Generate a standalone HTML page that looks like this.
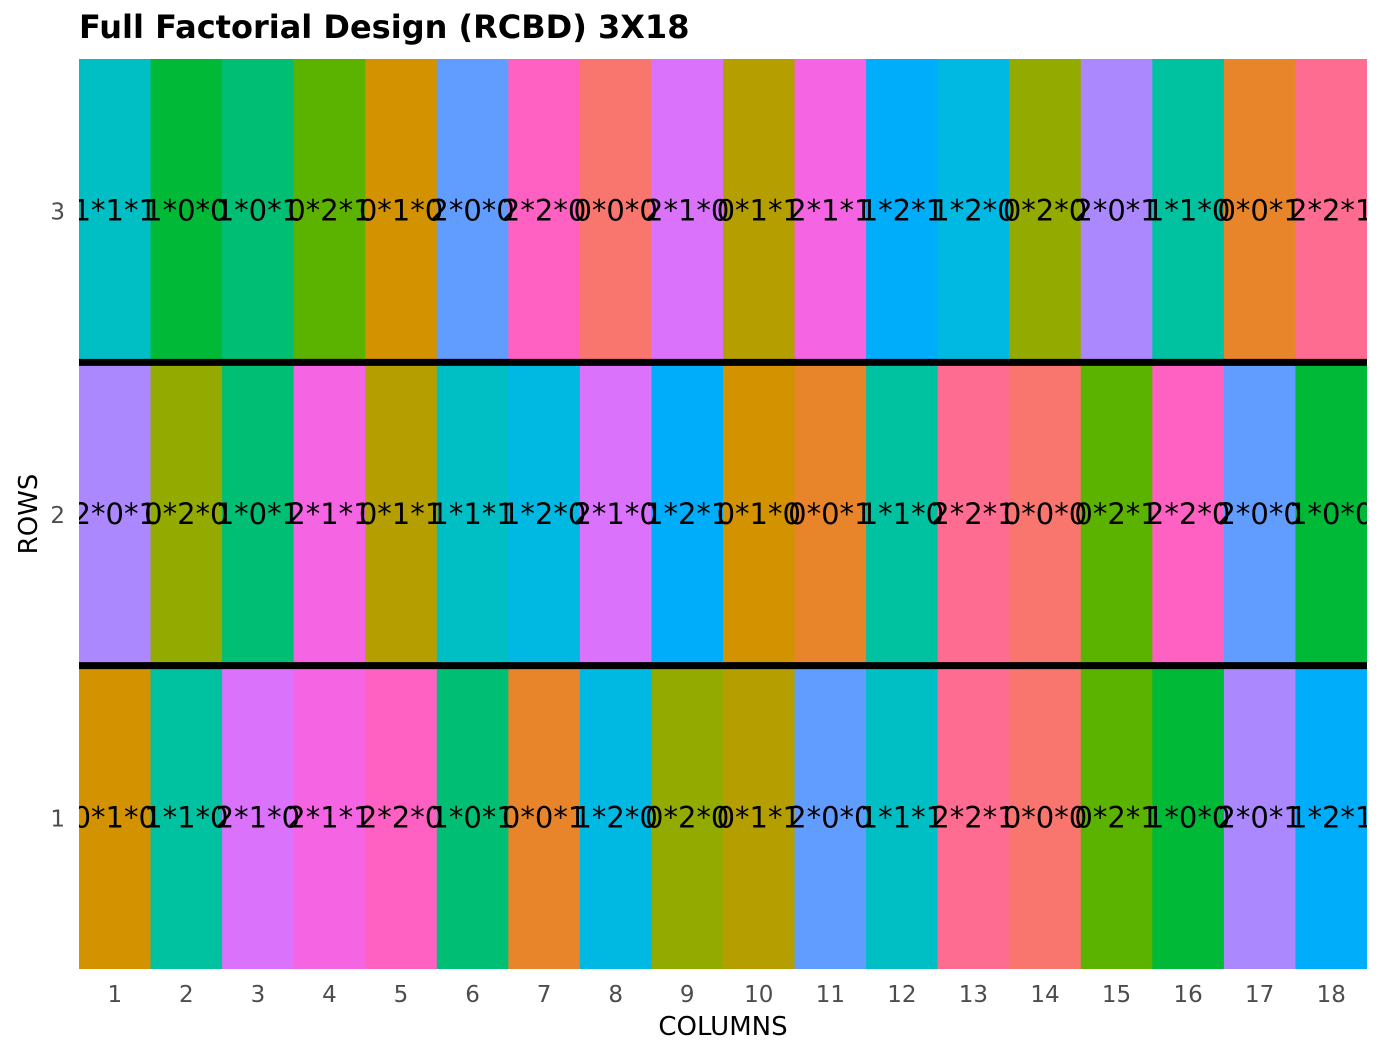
<!DOCTYPE html>
<html><head><meta charset="utf-8"><style>
body{margin:0;background:#fff;}
svg{display:block;font-family:"DejaVu Sans","Liberation Sans",sans-serif;}
</style></head><body>
<svg id="chart" width="1382" height="1056" viewBox="0 0 1382 1056">
<defs><clipPath id="pc"><rect x="79" y="59" width="1288" height="910"/></clipPath></defs>
<text x="79" y="38" font-size="32" font-weight="bold" fill="#000">Full Factorial Design (RCBD) 3X18</text>
<g id="tiles" clip-path="url(#pc)"></g>
<g id="labels" clip-path="url(#pc)"></g>
<g id="lines"></g>
<g id="axes"></g>
<text x="723" y="1035" font-size="26" text-anchor="middle" fill="#000">COLUMNS</text>
<text transform="translate(37,514) rotate(-90)" font-size="26" text-anchor="middle" fill="#000">ROWS</text>
</svg>
<script>
const treatments=["0*0*0","0*0*1","0*1*0","0*1*1","0*2*0","0*2*1","1*0*0","1*0*1","1*1*0","1*1*1","1*2*0","1*2*1","2*0*0","2*0*1","2*1*0","2*1*1","2*2*0","2*2*1"];
const palette=["#F8766D","#E8852A","#D39200","#B59E00","#93AA00","#5BB300","#00B937","#00BF74","#00C1A0","#00BFC4","#00B9E3","#00ADFA","#619CFF","#AC88FF","#DB72FB","#F564E3","#FF61C3","#FF6C91"];
const rowLabels=["1","2","3"];
const colLabels=["1","2","3","4","5","6","7","8","9","10","11","12","13","14","15","16","17","18"];
const row1=[2,8,14,15,16,7,1,10,4,3,12,9,17,0,5,6,13,11];
const row2=[13,4,7,15,3,9,10,14,11,2,1,8,17,0,5,16,12,6];
const row3=[9,6,7,5,2,12,16,0,14,3,15,11,10,4,13,8,1,17];
const rowsData=[row1,row2,row3];
const NS="http://www.w3.org/2000/svg";
const X0=79,X1=1367,Y0=59,Y1=969;
const cw=(X1-X0)/colLabels.length, rh=(Y1-Y0)/rowLabels.length;
const xs=c=>X0+c*cw;
const ys=r=>Y1-(r+1)*rh;
const tiles=document.getElementById('tiles'),labels=document.getElementById('labels'),lines=document.getElementById('lines'),axes=document.getElementById('axes');
function mk(t,a){const e=document.createElementNS(NS,t);for(const k in a)e.setAttribute(k,a[k]);return e;}
rowsData.forEach((row,r)=>{row.forEach((ti,c)=>{
  const rc=mk('rect',{x:xs(c),y:ys(r),width:cw+0.5,height:rh+0.5,fill:palette[ti]});
  
  
  tiles.appendChild(rc);
});});
rowsData.forEach((row,r)=>{row.forEach((ti,c)=>{
  const t=mk('text',{x:xs(c)+cw/2,y:ys(r)+rh/2+10,'font-size':29,'text-anchor':'middle',fill:'#000'});
  t.textContent=treatments[ti];
  
  
  labels.appendChild(t);
});});
for(let r=1;r<rowLabels.length;r++){
  const l=mk('line',{x1:X0,x2:X1,y1:Y1-r*rh,y2:Y1-r*rh,stroke:'#000','stroke-width':7});
  
  
  lines.appendChild(l);
}
rowLabels.forEach((s,r)=>{
  const t=mk('text',{x:65,y:ys(r)+rh/2+9,'font-size':23,'text-anchor':'end',fill:'#4D4D4D'});
  t.textContent=s;
  
  
  axes.appendChild(t);
});
colLabels.forEach((s,c)=>{
  const t=mk('text',{x:xs(c)+cw/2,y:1002,'font-size':23,'text-anchor':'middle',fill:'#4D4D4D'});
  t.textContent=s;
  
  
  axes.appendChild(t);
});
</script>
</body></html>
